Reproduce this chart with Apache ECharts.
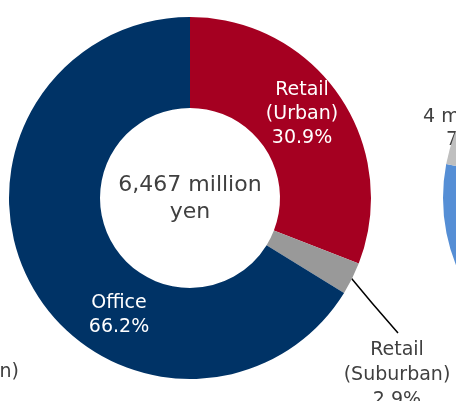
<!DOCTYPE html>
<html>
<head>
<meta charset="utf-8">
<script src="https://cdn.jsdelivr.net/npm/echarts@6/dist/echarts.min.js"></script>
<style>
html,body{margin:0;padding:0;background:#fff;}
#chart{width:456px;height:401px;}
</style>
</head>
<body>
<div id="chart"></div>
<script>
// Main donut data
const categories = ['Retail\n(Urban)', 'Retail\n(Suburban)', 'Office'];
const shares = [30.9, 2.9, 66.2];
const colors = ['#A50021', '#999999', '#003366'];
const centerText = ['6,467 million', 'yen'];

// Neighbouring (cropped) chart
const sideCategories = ['Other', '4 major cities'];
const sideShares = [78.0, 22.0];
const sideColors = ['#558ED5', '#BFBFBF'];
const sideLabel = ['4 major cities', '78.0%'];
const leftLabel = '(Suburban)';

const FONT = '"DejaVu Sans", Verdana, sans-serif';

const chart = echarts.init(document.getElementById('chart'), null, {renderer: 'canvas'});

const labelPos = [
  {x: 302, y: 114, inside: true, lh: 24},
  {x: 397, y: 375, inside: false, lh: 25, line: [[347, 273], [372, 303], [398, 333]]},
  {x: 119, y: 315, inside: true, lh: 24}
];

const mainData = categories.map((c, i) => ({
  name: c,
  value: shares[i],
  itemStyle: {color: colors[i]},
  label: {
    show: true,
    position: labelPos[i].inside ? 'inside' : 'outside',
    color: labelPos[i].inside ? '#ffffff' : '#404040',
    fontFamily: FONT,
    fontSize: 19,
    lineHeight: labelPos[i].lh,
    align: 'center',
    formatter: p => p.name + '\n' + p.value.toFixed(1) + '%'
  },
  labelLine: {
    show: !labelPos[i].inside,
    lineStyle: {color: '#000000', width: 1.5}
  }
}));

chart.setOption({
  animation: false,
  backgroundColor: '#ffffff',
  graphic: [
    {
      type: 'text',
      x: 190, y: 199,
      style: {
        text: centerText.join('\n'),
        font: '22px ' + FONT,
        fill: '#404040',
        align: 'center',
        verticalAlign: 'middle',
        lineHeight: 27
      }
    },
    {
      type: 'text',
      x: 423, y: 117,
      style: {text: sideLabel[0], font: '19px ' + FONT, fill: '#404040', align: 'left', verticalAlign: 'middle'}
    },
    {
      type: 'text',
      x: 446, y: 140,
      style: {text: sideLabel[1], font: '19px ' + FONT, fill: '#404040', align: 'left', verticalAlign: 'middle'}
    },
    {
      type: 'text',
      x: 19, y: 372,
      style: {text: leftLabel, font: '19px ' + FONT, fill: '#404040', align: 'right', verticalAlign: 'middle'}
    }
  ],
  series: [
    {
      type: 'pie',
      center: [190, 198],
      radius: [90, 181],
      startAngle: 90,
      clockwise: true,
      silent: true,
      avoidLabelOverlap: false,
      itemStyle: {borderWidth: 0},
      data: mainData,
      labelLayout: function (params) {
        const lp = labelPos[params.dataIndex];
        const r = {x: lp.x, y: lp.y, align: 'center', verticalAlign: 'middle'};
        if (lp.line) r.labelLinePoints = lp.line;
        return r;
      }
    },
    {
      type: 'pie',
      center: [624, 198],
      radius: [0, 181],
      startAngle: 90,
      clockwise: true,
      silent: true,
      label: {show: false},
      labelLine: {show: false},
      itemStyle: {borderWidth: 0},
      data: sideCategories.map((c, i) => ({name: c, value: sideShares[i], itemStyle: {color: sideColors[i]}}))
    }
  ]
});
</script>
</body>
</html>
